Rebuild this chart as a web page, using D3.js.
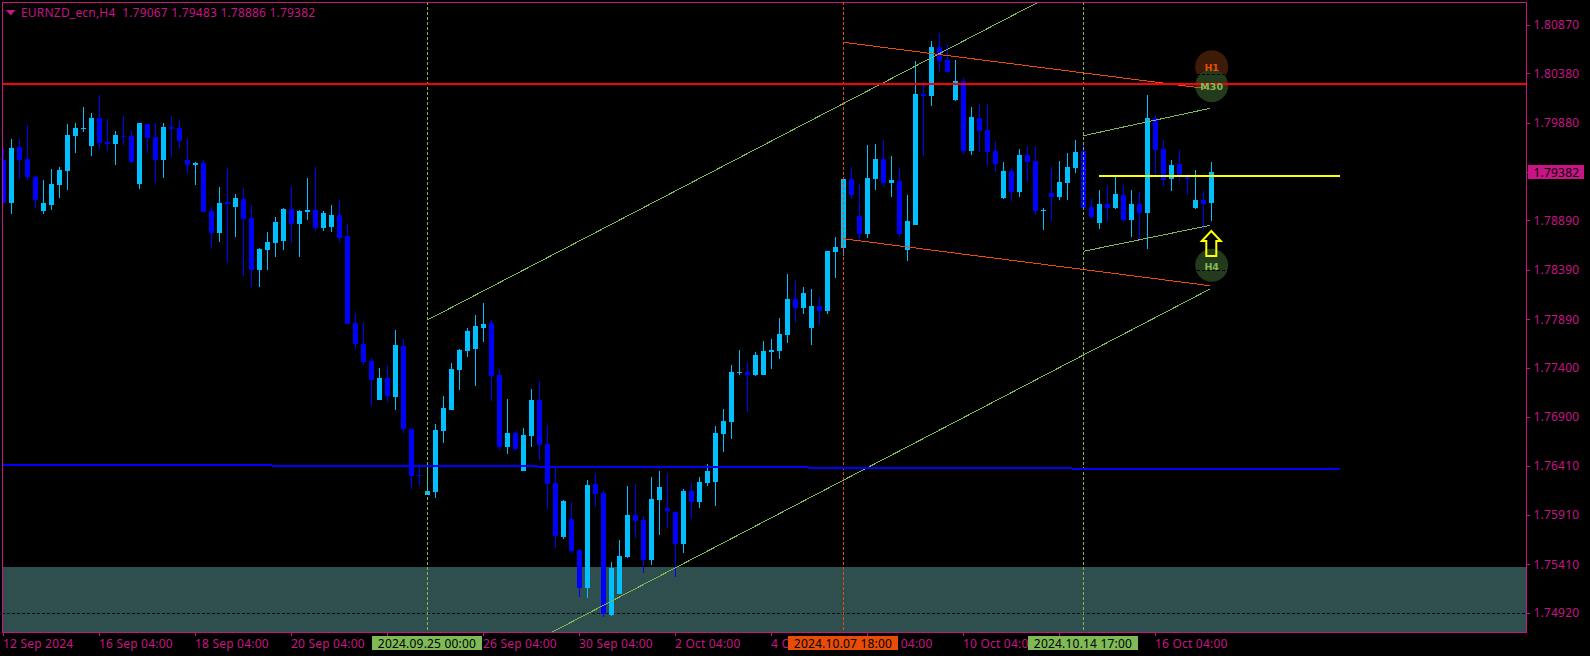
<!DOCTYPE html>
<html><head><meta charset="utf-8">
<script src="https://cdn.jsdelivr.net/npm/d3@7"></script>
<style>
html,body{margin:0;padding:0;background:#000;overflow:hidden}
svg{display:block}
text{font-family:"Noto Sans",sans-serif;font-size:12px;letter-spacing:.2px}
</style></head><body><div id="chart"></div>
<script>
const symbolText="EURNZD_ecn,H4  1.79067 1.79483 1.78886 1.79382";
const lastPrice=1.79382;
const opens=[1.79507,1.79072,1.79638,1.79517,1.79335,1.78991,1.79051,1.79253,1.79396,1.79749,1.79821,1.79648,1.79932,1.79689,1.79669,1.79749,1.79749,1.79264,1.79872,1.79739,1.79507,1.79841,1.79831,1.79507,1.79456,1.79477,1.78991,1.78768,1.79082,1.79031,1.79112,1.78919,1.78394,1.78596,1.78667,1.78687,1.79011,1.78860,1.78981,1.79001,1.78819,1.78829,1.78950,1.78737,1.77858,1.77645,1.77473,1.77078,1.77300,1.77108,1.77624,1.76784,1.76319,1.76116,1.76147,1.76764,1.76977,1.77382,1.77574,1.77594,1.77806,1.77858,1.77331,1.76602,1.76744,1.76360,1.76713,1.77078,1.76633,1.76238,1.75691,1.75874,1.75560,1.75175,1.76228,1.76137,1.74902,1.75115,1.75489,1.75915,1.75864,1.75459,1.76066,1.75985,1.75945,1.75621,1.76157,1.76046,1.76238,1.76248,1.76734,1.76856,1.77352,1.77362,1.77331,1.77331,1.77564,1.77574,1.77735,1.78100,1.78009,1.77806,1.78029,1.77979,1.78576,1.78616,1.79315,1.78940,1.78758,1.79315,1.79517,1.79274,1.79294,1.78596,1.78849,1.80175,1.80154,1.80650,1.80519,1.80114,1.80306,1.79598,1.79932,1.79810,1.79598,1.79122,1.79396,1.79183,1.79557,1.79497,1.78991,1.79173,1.79132,1.79274,1.79426,1.79598,1.79031,1.78870,1.79062,1.79021,1.79152,1.78900,1.79062,1.78971,1.79932,1.79618,1.79315,1.79466,1.79355,1.79021,1.79102,1.79067];
const highs=[1.79618,1.79719,1.79719,1.79861,1.79345,1.79304,1.79416,1.79436,1.79872,1.79882,1.80043,1.79983,1.80164,1.79922,1.79800,1.79952,1.79800,1.79882,1.79872,1.79882,1.79882,1.79952,1.79912,1.79729,1.79487,1.79507,1.79031,1.79233,1.79426,1.79163,1.79223,1.79051,1.78616,1.78778,1.78930,1.79021,1.79243,1.79001,1.79325,1.79436,1.78991,1.79051,1.79102,1.78860,1.77959,1.77868,1.77503,1.77402,1.77432,1.77786,1.77695,1.76794,1.76410,1.76431,1.76836,1.77118,1.77453,1.77594,1.77806,1.77938,1.78060,1.77888,1.77392,1.77088,1.76764,1.76794,1.77189,1.77270,1.76825,1.76390,1.76066,1.76046,1.75570,1.76268,1.76340,1.76157,1.75439,1.75661,1.76207,1.76228,1.75904,1.76299,1.76360,1.76340,1.75955,1.76177,1.76238,1.76299,1.76431,1.76815,1.76987,1.77432,1.77584,1.77463,1.77564,1.77675,1.77695,1.77908,1.78353,1.78292,1.78221,1.78201,1.78120,1.78586,1.78727,1.79325,1.79436,1.79264,1.79658,1.79669,1.79709,1.79547,1.79426,1.79152,1.80509,1.80296,1.80711,1.80792,1.80681,1.80519,1.80337,1.80043,1.80074,1.80074,1.79699,1.79487,1.79426,1.79618,1.79648,1.79648,1.79021,1.79436,1.79497,1.79578,1.79709,1.79669,1.79112,1.79203,1.79253,1.79345,1.79253,1.79203,1.79183,1.80164,1.79962,1.79709,1.79507,1.79608,1.79366,1.79406,1.79193,1.79483];
const lows=[1.79072,1.78961,1.79315,1.79304,1.79021,1.78961,1.79001,1.79122,1.79203,1.79578,1.79790,1.79547,1.79618,1.79598,1.79456,1.79658,1.79477,1.79213,1.79578,1.79274,1.79325,1.79537,1.79628,1.79366,1.79253,1.78981,1.78616,1.78677,1.78465,1.78727,1.78333,1.78221,1.78221,1.78394,1.78525,1.78596,1.78667,1.78525,1.78900,1.78788,1.78788,1.78778,1.78677,1.77848,1.77594,1.77432,1.77017,1.77078,1.77058,1.76977,1.76744,1.76177,1.76207,1.76116,1.76086,1.76643,1.76977,1.77179,1.77513,1.77219,1.77665,1.77068,1.76572,1.76532,1.76562,1.76360,1.76602,1.76471,1.75975,1.75580,1.75671,1.75530,1.75084,1.75074,1.75995,1.74882,1.74892,1.75115,1.75479,1.75681,1.75328,1.75408,1.75711,1.75782,1.75287,1.75530,1.75874,1.75985,1.76207,1.76005,1.76552,1.76683,1.77331,1.76957,1.77321,1.77331,1.77392,1.77493,1.77655,1.77858,1.77949,1.77634,1.77837,1.77949,1.78312,1.78535,1.79112,1.78697,1.78717,1.79203,1.79243,1.79132,1.78727,1.78485,1.78849,1.79547,1.80053,1.80398,1.80388,1.80104,1.79568,1.79557,1.79588,1.79446,1.79386,1.79112,1.79092,1.79132,1.79284,1.78950,1.78798,1.78890,1.79102,1.79102,1.79376,1.79021,1.78909,1.78809,1.78890,1.79011,1.78880,1.78727,1.78697,1.78606,1.79345,1.79243,1.79193,1.79294,1.79152,1.79011,1.78798,1.78886];
const closes=[1.79072,1.79628,1.79507,1.79335,1.79102,1.79072,1.79264,1.79406,1.79759,1.79831,1.79831,1.79932,1.79679,1.79669,1.79759,1.79739,1.79487,1.79882,1.79729,1.79507,1.79841,1.79821,1.79699,1.79456,1.79477,1.78981,1.78768,1.79072,1.79062,1.79122,1.78909,1.78394,1.78606,1.78677,1.78880,1.79011,1.78860,1.78991,1.79001,1.78819,1.78971,1.78950,1.78717,1.77848,1.77645,1.77463,1.77280,1.77300,1.77118,1.77634,1.76784,1.76309,1.76309,1.76157,1.76774,1.76997,1.77392,1.77584,1.77776,1.77827,1.77848,1.77321,1.76602,1.76744,1.76582,1.76723,1.77078,1.76622,1.76228,1.75701,1.76056,1.75550,1.75175,1.76218,1.76127,1.74913,1.75378,1.75499,1.75915,1.75854,1.75459,1.76076,1.76197,1.75955,1.75621,1.76157,1.76046,1.76248,1.76360,1.76744,1.76866,1.77362,1.77362,1.77331,1.77533,1.77574,1.77584,1.77746,1.78100,1.78009,1.78161,1.78029,1.77979,1.78586,1.78626,1.79315,1.79152,1.78758,1.79325,1.79517,1.79274,1.79304,1.78758,1.78890,1.80175,1.80154,1.80650,1.80509,1.80398,1.80306,1.79598,1.79942,1.79800,1.79588,1.79466,1.79396,1.79183,1.79557,1.79487,1.78991,1.79001,1.79132,1.79284,1.79436,1.79588,1.79021,1.78930,1.79062,1.79021,1.79163,1.78900,1.79062,1.78971,1.79932,1.79608,1.79304,1.79456,1.79345,1.79315,1.79102,1.79062,1.79382];

const priceTicks=[1.8087,1.8038,1.7988,1.7889,1.7839,1.7789,1.774,1.769,1.7641,1.7591,1.7541,1.7492];
const timeTickIdx=[0,12,24,36,48,60,72,84,96,108,120,132,144];
const timeTickLabels=["12 Sep 2024","16 Sep 04:00","18 Sep 04:00","20 Sep 04:00","","26 Sep 04:00","30 Sep 04:00","2 Oct 04:00","4 Oct 04:00","8 Oct 04:00","10 Oct 04:00","","16 Oct 04:00"];

const markerIdx=[53,105,135];
const markerLabels=["2024.09.25 00:00","2024.10.07 18:00","2024.10.14 17:00"];
const markerKinds=["g","o","g"];

const zonePrices=[1.75391,1.74700];
const redLevel=1.80276;
const yellowLine={from:136.9,to:167.06,price:1.79345};
const blueIdx=[-1,33.56,66.8,100.56,133.56,167.06];
const blueLevels=[1.7642,1.7641,1.764,1.7639,1.7638];

const bigUpper=[[53,1.77888],[151,1.82017]];
const bigLower=[[53,1.74072],[150.8,1.78201]];
const orangeUpper=[[105,1.80698],[150.8,1.80225]];
const orangeLower=[[105,1.7871],[150.8,1.78235]];
const smallUpper=[[135,1.79753],[150.8,1.8003]];
const smallLower=[[135,1.78583],[150.8,1.78846]];

const badgeLabels=["H1","M30","H4"];
const badgePrices=[1.80451,1.80259,1.78441];
const badgeKinds=["o","g","g"];
const arrowTipPrice=1.78788;

const W=1590,H=656;
const PINK="#C71585",SKY="#00BFFF",DARK="#0000FF",GREEN="#7FBA55",ORANGE="#E84C07",TEAL="#2F4F4F";
const kindColor={g:GREEN,o:ORANGE};
const badgeFill={g:"#233A1C",o:"#3D1B08"};
const pTop=2,pLeft=2,pRight=1526,pBottom=632;

const x=d3.scaleLinear().domain([0,151]).range([3.5,1211.5]);
const y=d3.scaleLinear().domain([1.8087,1.7492]).range([25.3,613.3]);
const ry=p=>Math.round(y(p));

const svg=d3.select("#chart").append("svg").attr("width",W).attr("height",H).style("background","#000");
svg.append("defs").append("clipPath").attr("id","plot").append("rect")
  .attr("x",pLeft+1).attr("y",pTop+1).attr("width",pRight-pLeft-1).attr("height",pBottom-pTop-1);

const plot=svg.append("g").attr("clip-path","url(#plot)").attr("shape-rendering","crispEdges");

// zone
plot.append("rect").attr("x",pLeft).attr("width",pRight-pLeft)
  .attr("y",ry(zonePrices[0])).attr("height",ry(zonePrices[1])-ry(zonePrices[0])).attr("fill",TEAL);

// badges (behind candles)
const badges=plot.append("g").attr("shape-rendering","auto");
badgeLabels.forEach((l,i)=>{
  badges.append("circle").attr("cx",x(151)+0.2).attr("cy",y(badgePrices[i])).attr("r",16.5).attr("fill",badgeFill[badgeKinds[i]]);
});

// grid
plot.append("g").selectAll("line").data(priceTicks).join("line")
  .attr("x1",pLeft).attr("x2",pRight).attr("y1",d=>Math.round(y(d))+0.5).attr("y2",d=>Math.round(y(d))+0.5)
  .attr("stroke","#000").attr("stroke-dasharray","3,2");

// candles
const idx=d3.range(opens.length);
const candles=plot.append("g").selectAll("g").data(idx).join("g")
  .attr("fill",i=>closes[i]>=opens[i]?SKY:DARK);
candles.append("rect").attr("x",i=>x(i)-0.5).attr("width",1)
  .attr("y",i=>ry(highs[i])).attr("height",i=>Math.max(1,ry(lows[i])-ry(highs[i])));
candles.append("rect").attr("x",i=>x(i)-2.5).attr("width",5)
  .attr("y",i=>ry(Math.max(opens[i],closes[i])))
  .attr("height",i=>Math.max(1,ry(Math.min(opens[i],closes[i]))-ry(Math.max(opens[i],closes[i]))));

// objects
const lineGen=d3.line().x(d=>x(d[0])).y(d=>y(d[1]));
const drawLine=(pts,color)=>plot.append("path").attr("d",lineGen(pts)).attr("fill","none").attr("stroke",color).attr("stroke-width",1);
[bigUpper,bigLower,smallUpper,smallLower].forEach(p=>drawLine(p,GREEN));
[orangeUpper,orangeLower].forEach(p=>drawLine(p,ORANGE));

markerIdx.forEach((m,i)=>{
  plot.append("line").attr("x1",x(m)).attr("x2",x(m)).attr("y1",pTop).attr("y2",pBottom)
    .attr("stroke",kindColor[markerKinds[i]]).attr("stroke-dasharray","3,2");
});

// blue stepped level
blueLevels.forEach((v,i)=>{
  plot.append("line").attr("x1",x(blueIdx[i])).attr("x2",x(blueIdx[i+1])).attr("y1",ry(v)).attr("y2",ry(v))
    .attr("stroke",DARK).attr("stroke-width",2);
});
// yellow
plot.append("line").attr("x1",x(yellowLine.from)).attr("x2",x(yellowLine.to)).attr("y1",ry(yellowLine.price)).attr("y2",ry(yellowLine.price))
  .attr("stroke","#FFFF00").attr("stroke-width",2);

// red level
plot.append("line").attr("x1",pLeft).attr("x2",pRight).attr("y1",ry(redLevel)).attr("y2",ry(redLevel))
  .attr("stroke","#FF0000").attr("stroke-width",2);

// badge text
badgeLabels.forEach((l,i)=>{
  plot.append("text").attr("x",x(151)+0.2).attr("y",y(badgePrices[i])+4.5).attr("text-anchor","middle")
    .attr("fill",kindColor[badgeKinds[i]]).style("font-family","'DejaVu Sans'").style("font-size","9.5px").style("font-weight","bold").style("letter-spacing","0").text(l);
});

// arrow
const ax=x(151)-0.2,ay=y(arrowTipPrice);
plot.append("path").attr("shape-rendering","auto")
  .attr("d",`M${ax},${ay} L${ax+9.5},${ay+10} L${ax+5},${ay+10} L${ax+5},${ay+25} L${ax-5},${ay+25} L${ax-5},${ay+10} L${ax-9.5},${ay+10} Z`)
  .attr("fill","none").attr("stroke","#FFFF00").attr("stroke-width",2);

// frame
svg.append("rect").attr("x",pLeft+.5).attr("y",pTop+.5).attr("width",pRight-pLeft).attr("height",pBottom-pTop)
  .attr("fill","none").attr("stroke",PINK).attr("shape-rendering","crispEdges");

// axes
const yAxis=d3.axisRight(y).tickValues(priceTicks).tickFormat(d3.format(".5f")).tickSize(3).tickPadding(4).offset(0);
const gy=svg.append("g").attr("transform",`translate(${pRight+.5},0)`).call(yAxis);
const xAxis=d3.axisBottom(x).tickValues(timeTickIdx).tickFormat((d,i)=>timeTickLabels[i]).tickSize(3).offset(0);
const gx=svg.append("g").attr("transform",`translate(0,${pBottom+.5})`).call(xAxis);
[gy,gx].forEach(g=>{
  g.select(".domain").remove();
  g.attr("font-family",null).attr("font-size",null);
  g.selectAll("line").attr("stroke",PINK).attr("shape-rendering","crispEdges");
  g.selectAll("text").attr("fill",PINK);
});
gx.selectAll("text").attr("text-anchor","start").attr("y",0).attr("dy",null).attr("transform","translate(0,15.5)").attr("x",-0.5);

// last price tag
svg.append("rect").attr("x",1528).attr("y",165).attr("width",56).attr("height",14).attr("fill",PINK);
svg.append("line").attr("x1",pRight).attr("x2",1528).attr("y1",ry(lastPrice)+.5).attr("y2",ry(lastPrice)+.5).attr("stroke",PINK).attr("shape-rendering","crispEdges");
svg.append("text").attr("x",1533.5).attr("y",176.5).attr("fill","#000").text(d3.format(".5f")(lastPrice));

// marker tags
markerIdx.forEach((m,i)=>{
  svg.append("rect").attr("x",x(m)-55.5).attr("y",636).attr("width",110).attr("height",14).attr("fill",kindColor[markerKinds[i]]);
  svg.append("text").attr("x",x(m)-0.5).attr("y",648).attr("text-anchor","middle").attr("fill","#000").text(markerLabels[i]);
});

// legend
svg.append("path").attr("d","M6,10 L15.5,10 L10.75,15.5 Z").attr("fill",PINK);
svg.append("text").attr("x",21).attr("y",17).attr("fill",PINK).attr("xml:space","preserve").style("white-space","pre").text(symbolText);
</script></body></html>
